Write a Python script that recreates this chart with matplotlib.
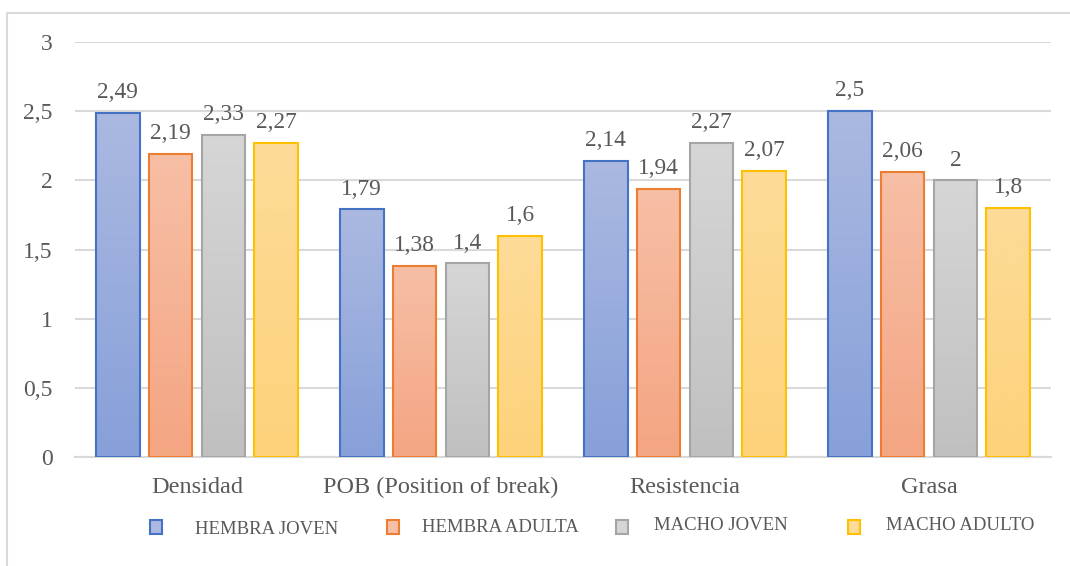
import numpy as np
import matplotlib.pyplot as plt
from matplotlib.patches import Rectangle
from matplotlib.lines import Line2D
from matplotlib.colors import LinearSegmentedColormap

plt.rcParams['font.family'] = ['Liberation Serif', 'DejaVu Serif']

categories = ["Densidad", "POB (Position of break)", "Resistencia", "Grasa"]
series_names = ["HEMBRA JOVEN", "HEMBRA ADULTA", "MACHO JOVEN", "MACHO ADULTO"]
hembra_joven = [2.49, 1.79, 2.14, 2.5]
hembra_adulta = [2.19, 1.38, 1.94, 2.06]
macho_joven = [2.33, 1.4, 2.27, 2.0]
macho_adulto = [2.27, 1.6, 2.07, 1.8]
y_ticks = [0, 0.5, 1, 1.5, 2, 2.5, 3]

series = [hembra_joven, hembra_adulta, macho_joven, macho_adulto]
edge_colors = ["#4472C4", "#ED7D31", "#A5A5A5", "#FFC000"]
# (top, bottom) colours for the vertical gradient in each bar
grad_colors = [("#ABB9E1", "#87A0D9"),
               ("#F7BFA6", "#F4A582"),
               ("#D6D6D6", "#C0C0C0"),
               ("#FDDB98", "#FDD27A")]
text_color = "#595959"
grid_color = "#D9D9D9"


def fmt(v):
    """Spanish decimal comma, trailing zeros dropped."""
    return ("%g" % v).replace(".", ",")


W, H = 1070, 566
fig = plt.figure(figsize=(W / 100, H / 100), dpi=100)
ax = fig.add_axes([75 / W, 1 - 457 / H, (1051 - 75) / W, (457 - 42) / H])

x = np.arange(len(categories))
bar_w = 0.18
step = 0.217
offsets = (np.arange(len(series)) - 1.5) * step

grad = np.linspace(1, 0, 256).reshape(-1, 1)
for i, vals in enumerate(series):
    cmap = LinearSegmentedColormap.from_list("g%d" % i, [grad_colors[i][1], grad_colors[i][0]])
    bars = ax.bar(x + offsets[i], vals, width=bar_w, facecolor="none",
                  edgecolor=edge_colors[i], linewidth=1.5, zorder=3)
    for b, v in zip(bars, vals):
        x0, w = b.get_x(), b.get_width()
        im = ax.imshow(grad, cmap=cmap, aspect="auto", extent=(x0, x0 + w, 0, v),
                       origin="upper", zorder=2, interpolation="bilinear")
        im.set_clip_path(b)
        ax.annotate(fmt(v), (x0 + w / 2, v), xytext=(0, 7), textcoords="offset points",
                    ha="center", va="bottom", fontsize=16.8, color=text_color)

ax.set_xlim(-0.5, len(categories) - 0.5)
ax.set_ylim(0, 3)
ax.set_yticks(y_ticks)
ax.set_yticklabels([fmt(t) for t in y_ticks], fontsize=17, color=text_color)
ax.set_xticks(x)
ax.set_xticklabels(categories, fontsize=17.5, color=text_color)
ax.tick_params(axis="y", length=0, pad=16)
ax.tick_params(axis="x", length=0, pad=14.5)
ax.grid(axis="y", color=grid_color, linewidth=1.5, zorder=0)
ax.set_axisbelow(True)
for s in ["top", "right", "left"]:
    ax.spines[s].set_visible(False)
ax.spines["bottom"].set_color(grid_color)
ax.spines["bottom"].set_linewidth(1.5)

# legend drawn along the bottom of the chart
leg_square_x = [150, 387, 616, 848]
leg_text_x = [195, 422, 654, 886]
leg_text_y = [529, 527, 525, 525]
for i, name in enumerate(series_names):
    sx = leg_square_x[i]
    fig.add_artist(Rectangle((sx / W, 1 - 534 / H), 12 / W, 14 / H,
                             transform=fig.transFigure,
                             facecolor=grad_colors[i][0], edgecolor=edge_colors[i],
                             linewidth=1.5))
    fig.text(leg_text_x[i] / W, 1 - leg_text_y[i] / H, name, fontsize=13.5,
             color=text_color, ha="left", va="center")

# chart frame
fig.add_artist(Line2D([7 / W, 1], [1 - 13 / H, 1 - 13 / H], transform=fig.transFigure,
                      color=grid_color, linewidth=1.5))
fig.add_artist(Line2D([7 / W, 7 / W], [0, 1 - 13 / H], transform=fig.transFigure,
                      color=grid_color, linewidth=1.5))

fig.savefig("out.png", dpi=100)
